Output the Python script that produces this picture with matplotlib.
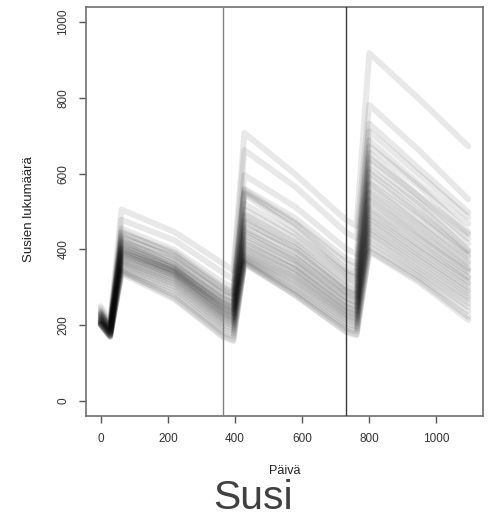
import numpy as np
import matplotlib
matplotlib.use("Agg")
from matplotlib import pyplot as plt

plt.rcParams['font.family'] = ['Liberation Sans', 'DejaVu Sans']

# Days at which each simulated run was read off the picture.
days = [0, 28, 62, 220, 365, 395, 428, 580, 730, 762, 800, 950, 1095]

# Wolf counts for each simulated run, one row per run.
runs = [
	[250, 210, 505, 446, 362, 344, 707, 598, 478, 462, 918, 796, 672],
	[244, 204, 478, 424, 338, 322, 662, 565, 445, 430, 781, 660, 532],
	[238, 200, 455, 398, 312, 298, 596, 512, 402, 388, 732, 612, 498],
	[233, 197, 442, 392, 300, 287, 560, 482, 376, 362, 712, 596, 485],
	[230, 195, 447, 386, 292, 280, 556, 470, 365, 350, 688, 572, 468],
	[236, 193, 430, 381, 296, 282, 550, 466, 348, 336, 672, 565, 446],
	[228, 192, 436, 374, 280, 268, 545, 452, 342, 330, 655, 540, 440],
	[226, 190, 420, 370, 283, 270, 520, 440, 336, 322, 642, 538, 428],
	[224, 191, 426, 360, 268, 257, 505, 430, 325, 312, 630, 522, 415],
	[222, 188, 414, 362, 272, 260, 492, 418, 318, 305, 612, 515, 398],
	[229, 187, 418, 352, 260, 248, 486, 412, 304, 292, 604, 498, 395],
	[220, 186, 405, 355, 264, 252, 470, 404, 300, 287, 590, 492, 386],
	[218, 185, 410, 348, 254, 242, 476, 395, 290, 279, 575, 480, 380],
	[217, 184, 400, 350, 250, 239, 458, 392, 288, 275, 570, 466, 368],
	[215, 183, 396, 343, 256, 244, 452, 378, 282, 270, 552, 462, 362],
	[221, 182, 402, 340, 246, 234, 446, 376, 274, 262, 548, 446, 350],
	[213, 181, 390, 344, 240, 229, 438, 370, 270, 258, 532, 442, 346],
	[212, 180, 394, 336, 244, 232, 430, 360, 262, 250, 528, 428, 340],
	[210, 180, 384, 338, 236, 224, 424, 358, 258, 246, 512, 425, 328],
	[214, 178, 388, 330, 230, 219, 416, 348, 250, 239, 505, 410, 325],
	[208, 178, 380, 332, 233, 222, 410, 346, 246, 235, 495, 405, 315],
	[207, 177, 376, 326, 226, 215, 404, 338, 240, 229, 485, 395, 310],
	[210, 176, 372, 322, 222, 211, 398, 332, 236, 225, 478, 386, 300],
	[205, 175, 368, 318, 218, 207, 392, 326, 230, 219, 468, 378, 292],
	[204, 175, 364, 312, 214, 203, 386, 320, 225, 214, 458, 370, 285],
	[206, 173, 360, 308, 208, 198, 382, 314, 220, 209, 450, 360, 275],
	[203, 173, 356, 302, 202, 192, 378, 306, 214, 204, 442, 352, 268],
	[202, 172, 350, 295, 196, 186, 374, 300, 206, 196, 432, 342, 258],
	[201, 171, 345, 288, 188, 178, 370, 292, 200, 190, 420, 335, 248],
	[200, 170, 340, 280, 180, 170, 366, 286, 192, 183, 410, 326, 236],
	[204, 170, 342, 272, 172, 162, 362, 280, 185, 176, 398, 318, 222],
	[200, 168, 336, 268, 168, 158, 365, 278, 182, 173, 394, 312, 214],
]

year_marks = [365, 730]
x_ticks = [0, 200, 400, 600, 800, 1000]
y_ticks = [0, 200, 400, 600, 800, 1000]

fig = plt.figure(figsize=(4.92, 5.16), dpi=100)
ax = fig.add_axes([86/492, 1 - 416/516, 397/492, 409/516])

for run in runs:
	ax.plot(days, run, color='k', alpha=0.09, lw=4.3,
		solid_joinstyle='round', solid_capstyle='round')

# Year boundaries.
ax.axvline(year_marks[0], color='#808080', lw=1, zorder=5)
ax.axvline(year_marks[1], color='#3a3a3a', lw=1, zorder=5)

# R-style axis ranges (4% padding).
ax.set_xlim(-0.04*1095, 1.04*1095)
ax.set_ylim(-40, 1040)
ax.set_xticks(x_ticks)
ax.set_yticks(y_ticks)
for spine in ax.spines.values():
	spine.set_color('#6e6e6e')
	spine.set_linewidth(1.2)
ax.tick_params(axis='both', length=5, width=1, color='#555555',
	labelsize=8.5, labelcolor='#333333')
ax.tick_params(axis='x', pad=7)
ax.tick_params(axis='y', pad=7)
for lab in ax.get_yticklabels():
	lab.set_rotation(90)
	lab.set_va('center')
	lab.set_ha('right')

fig.text(29/492, 1 - 209/516, "Susien lukumäärä", rotation=90,
	ha='center', va='center', fontsize=9.5, color='#222222')
fig.text(284.5/492, 1 - 471/516, "Päivä", ha='center', va='center',
	fontsize=9, color='#222222')
fig.text(253/492, 0.014, "Susi", ha='center', va='baseline',
	fontsize=29.5, color='#404040')

fig.savefig("out.png", dpi=100)
